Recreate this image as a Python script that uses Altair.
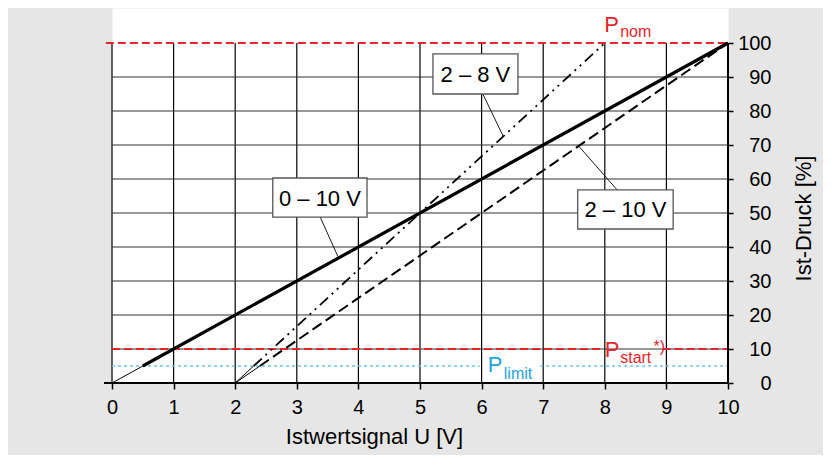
import altair as alt
import pandas as pd

# ---------------- data ----------------
u_ticks = list(range(0, 11))                 # Istwertsignal U [V]
p_ticks = list(range(0, 101, 10))            # Ist-Druck [%]
grid_p = list(range(10, 100, 10))

signal_labels = ["0 – 10 V", "2 – 10 V", "2 – 8 V"]
u_start = [0, 2, 2]          # signal at 0 %
u_end = [10, 10, 8]          # signal at 100 %

p_nom = 100
p_start = 10
p_limit = 5

# annotation boxes (data coordinates) and leader lines
box_x = [2.61, 7.56, 5.21]
box_x2 = [4.14, 9.11, 6.59]
box_y = [48.8, 45.3, 85.0]
box_y2 = [60.3, 56.8, 96.8]
lead_x = [3.38, 8.20, 6.02]
lead_y = [48.8, 56.8, 85.0]
lead_x2 = [3.67, 7.58, 6.35]
lead_y2 = [37.1, 69.6, 72.6]

FONT = "Liberation Sans"
RED = "#e4262c"
BLUE_TXT = "#1fa3df"
BLUE_LINE = "#6cc3ea"

xs = alt.Scale(domain=[0, 10], nice=False, zero=False)
ys = alt.Scale(domain=[0, 110.3], nice=False, zero=False)

xaxis = alt.Axis(values=u_ticks, grid=False, domain=False, ticks=True, tickSize=6,
                 tickWidth=1.5, tickColor="black", labelFont=FONT, labelFontSize=20,
                 labelColor="black", labelPadding=8, labelFlush=False, labelOverlap=False,
                 format="d", title="Istwertsignal U [V]", titleFont=FONT, titleFontSize=22,
                 titleFontWeight="normal", titleColor="black", titleX=262, titleY=53,
                 titleAlign="center", titleBaseline="middle")
yaxis = alt.Axis(orient="right", values=p_ticks, grid=False, domain=False, ticks=True,
                 tickSize=5, tickWidth=1.5, tickColor="black", labelFont=FONT,
                 labelFontSize=20, labelColor="black", labelAlign="right",
                 labelBaseline="middle", labelPadding=38, labelFlush=False,
                 labelOverlap=False, format="d", title="Ist-Druck [%]", titleFont=FONT,
                 titleFontSize=22, titleFontWeight="normal", titleColor="black",
                 titleAngle=270, titleX=75, titleY=210, titleAlign="center",
                 titleBaseline="middle")

X = alt.X("x:Q", scale=xs, axis=xaxis)
Y = alt.Y("y:Q", scale=ys, axis=yaxis)


def rules(df, **mk):
    return alt.Chart(df).mark_rule(**mk).encode(x=X, y=Y, x2="x2:Q", y2="y2:Q")


def texts(df, **mk):
    return alt.Chart(df).mark_text(font=FONT, align="left", baseline="alphabetic",
                                   **mk).encode(x=X, y=Y, text="t:N")


# grid
vgrid = rules(pd.DataFrame({"x": u_ticks, "x2": u_ticks, "y": 0, "y2": 100}),
              color="black", strokeWidth=1.2)
hgrid = rules(pd.DataFrame({"x": 0, "x2": 10, "y": grid_p, "y2": grid_p}),
              color="#333333", strokeWidth=1.2)

# reference levels
nom_line = rules(pd.DataFrame({"x": [-0.1], "x2": [10], "y": [p_nom], "y2": [p_nom]}),
                 color=RED, strokeWidth=2, strokeDash=[8, 4])
start_line = rules(pd.DataFrame({"x": [0, 8.94], "x2": [7.92, 10],
                                 "y": [p_start] * 2, "y2": [p_start] * 2}),
                   color=RED, strokeWidth=2, strokeDash=[8, 4])
limit_line = rules(pd.DataFrame({"x": [0, 6.95], "x2": [5.97, 10],
                                 "y": [p_limit] * 2, "y2": [p_limit] * 2}),
                   color=BLUE_LINE, strokeWidth=1.5, strokeDash=[3, 3])

# characteristic lines
styles = [dict(strokeWidth=3.2),
          dict(strokeWidth=2, strokeDash=[11, 5]),
          dict(strokeWidth=1.8, strokeDash=[11, 5, 2, 5, 2, 5])]
series_layers = []
for i, name in enumerate(signal_labels):
    u_lim = u_start[i] + (u_end[i] - u_start[i]) * p_limit / 100
    thin = pd.DataFrame({"x": [u_start[i]], "x2": [u_lim], "y": [0], "y2": [p_limit]})
    series_layers.append(rules(thin, color="black", strokeWidth=1))
    main = pd.DataFrame({"x": [u_lim, u_end[i]], "y": [p_limit, 100]})
    series_layers.append(alt.Chart(main).mark_line(color="black", **styles[i])
                         .encode(x=X, y=Y))

# leaders, boxes, labels
leaders = rules(pd.DataFrame({"x": lead_x, "y": lead_y, "x2": lead_x2, "y2": lead_y2}),
                color="black", strokeWidth=0.9)
boxes = alt.Chart(pd.DataFrame({"x": box_x, "x2": box_x2, "y": box_y, "y2": box_y2})).mark_rect(
    fill="white", stroke="#555555", strokeWidth=1.3).encode(x=X, y=Y, x2="x2:Q", y2="y2:Q")
box_txt = alt.Chart(pd.DataFrame({
    "x": [(a + b) / 2 for a, b in zip(box_x, box_x2)],
    "y": [(a + b) / 2 for a, b in zip(box_y, box_y2)],
    "t": signal_labels})).mark_text(font=FONT, fontSize=22, color="black",
                                    align="center", baseline="middle", dy=1).encode(
    x=X, y=Y, text="t:N")

red_big = texts(pd.DataFrame({"x": [7.99, 8.0], "y": [103.24, 7.65], "t": ["P", "P"]}),
                fontSize=22, color=RED)
red_sub = texts(pd.DataFrame({"x": [8.25, 8.25], "y": [101.76, 5.88], "t": ["nom", "start"]}),
                fontSize=16, color=RED)
red_sup = texts(pd.DataFrame({"x": [8.79], "y": [9.26], "t": ["*)"]}),
                fontSize=16, color=RED)
blue_big = texts(pd.DataFrame({"x": [6.10], "y": [3.24], "t": ["P"]}),
                 fontSize=22, color=BLUE_TXT)
blue_sub = texts(pd.DataFrame({"x": [6.36], "y": [1.18], "t": ["limit"]}),
                 fontSize=16, color=BLUE_TXT)

# frame: bottom axis line and right axis line
frame = rules(pd.DataFrame({"x": [-0.13, 10], "x2": [10, 10], "y": [0, 0], "y2": [0, 100]}),
              color="black", strokeWidth=2)

chart = alt.layer(vgrid, hgrid, nom_line, start_line, limit_line, *series_layers,
                  leaders, boxes, box_txt, red_big, red_sub, red_sup, blue_big, blue_sub,
                  frame).properties(
    width=616, height=375, background="#e6e6e6",
    autosize=alt.AutoSizeParams(type="none"),
    padding={"left": 104, "top": 0, "right": 95, "bottom": 72},
).configure_view(fill="white", stroke="transparent")

chart.save("out.html", embed_options={"renderer": "svg", "actions": False})
